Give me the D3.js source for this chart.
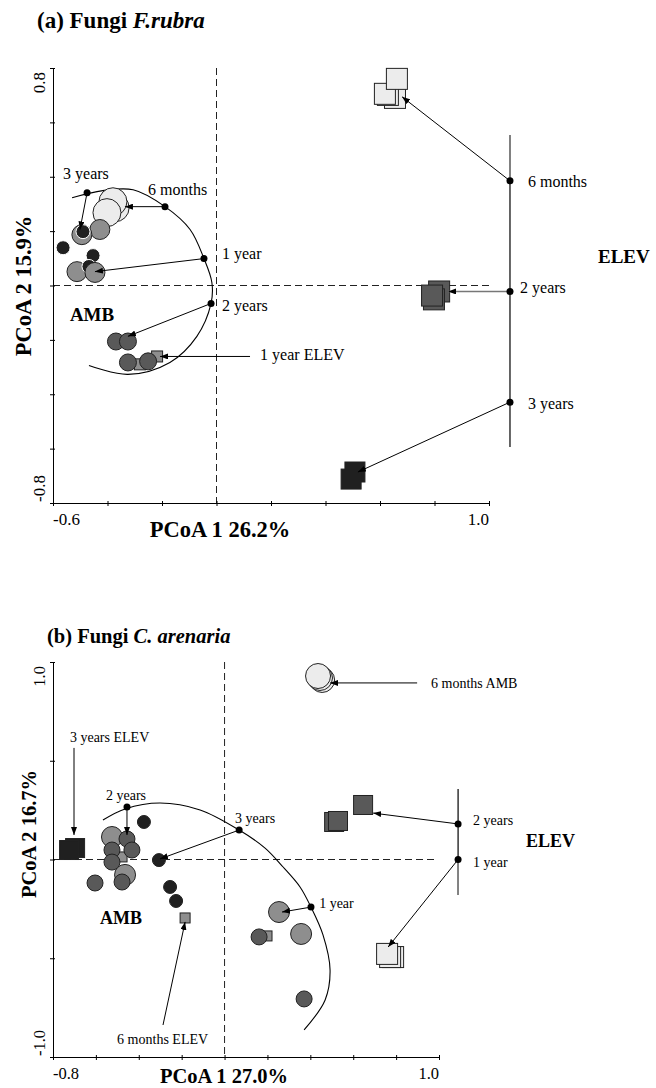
<!DOCTYPE html>
<html>
<head>
<meta charset="utf-8">
<script src="https://cdn.jsdelivr.net/npm/d3@7"></script>
<style>
  body { margin: 0; background: #fff; }
  svg { display: block; }
  text { font-family: "Liberation Serif", "Times New Roman", serif; fill: #000; }
  .tick-label { font-family: "Liberation Sans", Arial, sans-serif; }
</style>
</head>
<body>
<svg id="chart" width="656" height="1088"></svg>
<script>
// ---------- panel (a) Fungi F.rubra ----------
const aTicksX = [-0.6, -0.4, -0.2, 0, 0.2, 0.4, 0.6, 0.8, 1.0];
const aTicksY = [-0.8, -0.6, -0.4, -0.2, 0, 0.2, 0.4, 0.6, 0.8];

const aSquares = [
  { tone: "grey", x: -0.281, y: -0.290 },
  { tone: "grey", x: -0.218, y: -0.261 },
  { tone: "light", x: 0.655, y: 0.690 },
  { tone: "light", x: 0.629, y: 0.701 },
  { tone: "light", x: 0.618, y: 0.705 },
  { tone: "light", x: 0.662, y: 0.760 },
  { tone: "dark", x: 0.817, y: -0.022 },
  { tone: "dark", x: 0.798, y: -0.051 },
  { tone: "dark", x: 0.791, y: -0.037 },
  { tone: "black", x: 0.508, y: -0.686 },
  { tone: "black", x: 0.494, y: -0.712 },
];

const aCircles = [
  { tone: "light", x: -0.372, y: 0.286 },
  { tone: "light", x: -0.380, y: 0.308 },
  { tone: "light", x: -0.402, y: 0.268 },
  { tone: "grey", x: -0.428, y: 0.206 },
  { tone: "grey", x: -0.494, y: 0.187 },
  { tone: "black", x: -0.490, y: 0.198 },
  { tone: "black", x: -0.563, y: 0.139 },
  { tone: "black", x: -0.453, y: 0.110 },
  { tone: "grey", x: -0.512, y: 0.051 },
  { tone: "black", x: -0.468, y: 0.070 },
  { tone: "grey", x: -0.446, y: 0.048 },
  { tone: "dark", x: -0.369, y: -0.206 },
  { tone: "dark", x: -0.325, y: -0.206 },
  { tone: "dark", x: -0.325, y: -0.283 },
  { tone: "dark", x: -0.251, y: -0.279 },
];

const aArc = [
  [-0.530, 0.323], [-0.417, 0.349], [-0.306, 0.352], [-0.189, 0.290],
  [-0.097, 0.206], [-0.046, 0.099], [-0.017, 0.011], [-0.020, -0.066],
  [-0.072, -0.187], [-0.171, -0.283], [-0.325, -0.327], [-0.468, -0.294],
];

const aElevLine = [[1.077, 0.554], [1.077, -0.594]];
const aElevGrey = [[1.077, 0.554], [1.077, 0.385]];

const aArrows = [
  { from: [-0.475, 0.341], to: [-0.501, 0.206], dot: true },
  { from: [-0.189, 0.290], to: [-0.336, 0.290], dot: true },
  { from: [-0.046, 0.099], to: [-0.446, 0.051], dot: true },
  { from: [-0.020, -0.066], to: [-0.325, -0.187], dot: true },
  { from: [0.123, -0.261], to: [-0.207, -0.261], dot: false },
  { from: [1.077, 0.385], to: [0.681, 0.694], dot: true },
  { from: [1.077, -0.022], to: [0.850, -0.022], dot: true, grey: true },
  { from: [1.077, -0.429], to: [0.519, -0.686], dot: true },
];

const aLabels = [
  { text: "3 years", x: -0.563, y: 0.393 },
  { text: "6 months", x: -0.251, y: 0.334 },
  { text: "1 year", x: 0.020, y: 0.099 },
  { text: "2 years", x: 0.020, y: -0.092 },
  { text: "1 year ELEV", x: 0.160, y: -0.275 },
  { text: "6 months", x: 1.143, y: 0.363 },
  { text: "2 years", x: 1.114, y: -0.026 },
  { text: "3 years", x: 1.143, y: -0.455 },
];
const aBoldLabels = [
  { text: "AMB", x: -0.538, y: -0.132 },
  { text: "ELEV", x: 1.400, y: 0.081 },
];

// ---------- panel (b) Fungi C. arenaria ----------
const bTicksX = [-0.8, -0.6, -0.4, -0.2, 0, 0.2, 0.4, 0.6, 0.8, 1.0];
const bTicksY = [-1.0, -0.5, 0, 0.5, 1.0];

const bSquares = [
  { tone: "black", x: -0.697, y: 0.058 },
  { tone: "black", x: -0.725, y: 0.048 },
  { tone: "grey", x: -0.478, y: 0.013 },
  { tone: "grey", x: -0.184, y: -0.296 },
  { tone: "grey", x: 0.198, y: -0.387 },
  { tone: "dark", x: 0.646, y: 0.276 },
  { tone: "dark", x: 0.511, y: 0.190 },
  { tone: "dark", x: 0.529, y: 0.195 },
  { tone: "light", x: 0.786, y: -0.494 },
  { tone: "light", x: 0.772, y: -0.494 },
  { tone: "light", x: 0.758, y: -0.478 },
];

const bCircles = [
  { tone: "light", x: 0.455, y: 0.909 },
  { tone: "light", x: 0.445, y: 0.919 },
  { tone: "light", x: 0.436, y: 0.929 },
  { tone: "grey", x: -0.525, y: 0.114 },
  { tone: "dark", x: -0.455, y: 0.104 },
  { tone: "dark", x: -0.525, y: 0.048 },
  { tone: "dark", x: -0.432, y: 0.048 },
  { tone: "dark", x: -0.525, y: -0.013 },
  { tone: "grey", x: -0.464, y: -0.078 },
  { tone: "dark", x: -0.478, y: -0.114 },
  { tone: "dark", x: -0.604, y: -0.119 },
  { tone: "black", x: -0.376, y: 0.190 },
  { tone: "black", x: -0.306, y: -0.003 },
  { tone: "black", x: -0.254, y: -0.139 },
  { tone: "black", x: -0.226, y: -0.210 },
  { tone: "grey", x: 0.254, y: -0.266 },
  { tone: "grey", x: 0.357, y: -0.377 },
  { tone: "dark", x: 0.161, y: -0.392 },
  { tone: "dark", x: 0.371, y: -0.706 },
];

const bArc = [
  [-0.567, 0.200], [-0.464, 0.256], [-0.301, 0.286], [-0.114, 0.251],
  [0.068, 0.149], [0.189, 0.058], [0.273, -0.038], [0.352, -0.139],
  [0.403, -0.241], [0.459, -0.382], [0.492, -0.559], [0.469, -0.711],
  [0.371, -0.863],
];

const bElevLine = [[1.089, 0.357], [1.089, -0.180]];
const bElevGrey = [[1.089, 0.0], [1.089, -0.180]];

const bArrows = [
  { from: [-0.455, 0.266], to: [-0.455, 0.124], dot: true },
  { from: [0.068, 0.149], to: [-0.301, 0.003], dot: true },
  { from: [0.403, -0.241], to: [0.268, -0.266], dot: true },
  { from: [-0.702, 0.565], to: [-0.702, 0.124], dot: false },
  { from: [-0.287, -0.838], to: [-0.184, -0.316], dot: false },
  { from: [0.898, 0.894], to: [0.492, 0.894], dot: false },
  { from: [1.089, 0.180], to: [0.693, 0.235], dot: true },
  { from: [1.089, 0.0], to: [0.763, -0.443], dot: true },
];

const bLabels = [
  { text: "3 years ELEV", x: -0.721, y: 0.595 },
  { text: "2 years", x: -0.553, y: 0.301 },
  { text: "3 years", x: 0.049, y: 0.185 },
  { text: "1 year", x: 0.441, y: -0.246 },
  { text: "6 months AMB", x: 0.963, y: 0.868 },
  { text: "6 months ELEV", x: -0.501, y: -0.934 },
  { text: "2 years", x: 1.159, y: 0.175 },
  { text: "1 year", x: 1.159, y: -0.038 },
];
const bBoldLabels = [
  { text: "AMB", x: -0.581, y: -0.327 },
  { text: "ELEV", x: 1.406, y: 0.063 },
];

const toneFill = { light: "#ececec", grey: "#8e8e8e", dark: "#595959", black: "#202020" };

const svg = d3.select("#chart");

svg.append("defs").append("marker")
  .attr("id", "head")
  .attr("viewBox", "0 0 8 6")
  .attr("refX", 8).attr("refY", 3)
  .attr("markerWidth", 8).attr("markerHeight", 6)
  .attr("markerUnits", "userSpaceOnUse")
  .attr("orient", "auto")
  .append("path").attr("d", "M0,0L8,3L0,6z").attr("fill", "#000");

function drawPanel(cfg) {
  const x = d3.scaleLinear().domain(cfg.xDomain).range(cfg.xRange);
  const y = d3.scaleLinear().domain(cfg.yDomain).range(cfg.yRange);
  const g = svg.append("g");
  const line = d3.line().x((d) => x(d[0])).y((d) => y(d[1]));

  // title
  const title = g.append("text")
    .attr("x", cfg.title.x).attr("y", cfg.title.y)
    .attr("font-size", cfg.title.size).attr("font-weight", "bold");
  title.append("tspan").text(cfg.title.plain);
  title.append("tspan").attr("font-style", "italic").text(cfg.title.italic);

  // dashed reference lines
  g.append("line")
    .attr("x1", x(cfg.xDomain[0])).attr("x2", x(cfg.hDashEnd))
    .attr("y1", y(0)).attr("y2", y(0))
    .attr("stroke", "#222").attr("stroke-dasharray", "7,4");
  g.append("line")
    .attr("x1", x(0)).attr("x2", x(0))
    .attr("y1", y(cfg.yDomain[1])).attr("y2", y(cfg.yDomain[0]))
    .attr("stroke", "#222").attr("stroke-dasharray", "7,4");

  // axes
  g.append("g")
    .attr("transform", `translate(0,${y(cfg.yDomain[0])})`)
    .call(d3.axisBottom(x).tickValues(cfg.ticksX).tickSize(3).tickSizeOuter(0).tickFormat(""))
    .call((s) => s.selectAll(".tick line").attr("y1", -2));
  g.append("g")
    .attr("transform", `translate(${x(cfg.xDomain[0])},0)`)
    .call(d3.axisLeft(y).tickValues(cfg.ticksY).tickSize(3).tickSizeOuter(0).tickFormat(""))
    .call((s) => s.selectAll(".tick line").attr("x1", 2));

  // end tick labels
  const tl = g.append("g").attr("class", "tick-label").attr("font-size", cfg.tickSize);
  tl.append("text").attr("x", x(cfg.xDomain[0])).attr("y", y(cfg.yDomain[0]) + 22)
    .text(cfg.xDomain[0].toFixed(1));
  tl.append("text").attr("x", x(cfg.xDomain[1])).attr("y", y(cfg.yDomain[0]) + 22)
    .attr("text-anchor", "end").text(cfg.xDomain[1].toFixed(1));
  tl.append("text").attr("transform", `translate(45,${y(cfg.yDomain[1]) + 4}) rotate(-90)`)
    .attr("text-anchor", "end").text(cfg.yDomain[1].toFixed(1));
  tl.append("text").attr("transform", `translate(45,${y(cfg.yDomain[0]) - 1}) rotate(-90)`)
    .text(cfg.yDomain[0].toFixed(1));

  // axis titles
  g.append("text").attr("x", cfg.xTitle.x).attr("y", cfg.xTitle.y)
    .attr("text-anchor", "middle").attr("font-weight", "bold").attr("font-size", cfg.axisTitleSize)
    .text(cfg.xTitle.text);
  g.append("text").attr("transform", `translate(${cfg.yTitle.x},${cfg.yTitle.y}) rotate(-90)`)
    .attr("text-anchor", "middle").attr("font-weight", "bold").attr("font-size", cfg.axisTitleSize)
    .text(cfg.yTitle.text);

  // AMB trajectory arc
  g.append("path").attr("d", line.curve(d3.curveCatmullRom.alpha(0.5))(cfg.arc))
    .attr("fill", "none").attr("stroke", "#000").attr("stroke-width", 1.1);
  line.curve(d3.curveLinear);

  // ELEV trajectory line
  g.append("path").attr("d", line(cfg.elevLine)).attr("stroke", "#000").attr("stroke-width", 1.2);
  g.append("path").attr("d", line(cfg.elevGrey)).attr("stroke", "#888").attr("stroke-width", 1.6);

  // samples
  g.append("g").selectAll("rect").data(cfg.squares).join("rect")
    .attr("x", (d) => x(d.x) - cfg.squareSize[d.tone] / 2)
    .attr("y", (d) => y(d.y) - cfg.squareSize[d.tone] / 2)
    .attr("width", (d) => cfg.squareSize[d.tone])
    .attr("height", (d) => cfg.squareSize[d.tone])
    .attr("fill", (d) => toneFill[d.tone])
    .attr("stroke", "#222").attr("stroke-width", 1);

  g.append("g").selectAll("circle").data(cfg.circles).join("circle")
    .attr("cx", (d) => x(d.x)).attr("cy", (d) => y(d.y))
    .attr("r", (d) => cfg.radius[d.tone])
    .attr("fill", (d) => toneFill[d.tone])
    .attr("stroke", (d) => (d.tone === "black" && cfg.whiteRing ? "#fff" : "#222"))
    .attr("stroke-width", 1);

  // arrows and time-point dots
  g.append("g").selectAll("line").data(cfg.arrows).join("line")
    .attr("x1", (d) => x(d.from[0])).attr("y1", (d) => y(d.from[1]))
    .attr("x2", (d) => x(d.to[0])).attr("y2", (d) => y(d.to[1]))
    .attr("stroke", (d) => (d.grey ? "#777" : "#000"))
    .attr("stroke-width", (d) => (d.grey ? 1.6 : 1))
    .attr("marker-end", "url(#head)");
  g.append("g").selectAll("circle").data(cfg.arrows.filter((d) => d.dot)).join("circle")
    .attr("cx", (d) => x(d.from[0])).attr("cy", (d) => y(d.from[1]))
    .attr("r", 3.5).attr("fill", "#000");

  // labels
  g.append("g").selectAll("text").data(cfg.labels).join("text")
    .attr("x", (d) => x(d.x)).attr("y", (d) => y(d.y))
    .attr("font-size", cfg.labelSize).text((d) => d.text);
  g.append("g").selectAll("text").data(cfg.boldLabels).join("text")
    .attr("x", (d) => x(d.x)).attr("y", (d) => y(d.y))
    .attr("font-size", cfg.boldSize).attr("font-weight", "bold").text((d) => d.text);
}

drawPanel({
  xDomain: [-0.6, 1.0], xRange: [53, 489],
  yDomain: [-0.8, 0.8], yRange: [503, 68],
  ticksX: aTicksX, ticksY: aTicksY, hDashEnd: 1.004,
  title: { x: 37, y: 28, size: 23, plain: "(a) Fungi ", italic: "F.rubra" },
  xTitle: { x: 220, y: 537, text: "PCoA 1 26.2%" },
  yTitle: { x: 31, y: 286, text: "PCoA 2 15.9%" },
  axisTitleSize: 22.5, tickSize: 17, labelSize: 16, boldSize: 19,
  arc: aArc, elevLine: aElevLine, elevGrey: aElevGrey,
  squares: aSquares, circles: aCircles, arrows: aArrows,
  labels: aLabels, boldLabels: aBoldLabels,
  radius: { light: 14, grey: 10, dark: 8.5, black: 7 },
  squareSize: { light: 21, grey: 11, dark: 21, black: 20 },
  whiteRing: true,
});

drawPanel({
  xDomain: [-0.8, 1.0], xRange: [53, 439],
  yDomain: [-1.0, 1.0], yRange: [1057, 662],
  ticksX: bTicksX, ticksY: bTicksY, hDashEnd: 0.991,
  title: { x: 47, y: 643, size: 20.5, plain: "(b) Fungi ", italic: "C. arenaria" },
  xTitle: { x: 224, y: 1083, text: "PCoA 1 27.0%" },
  yTitle: { x: 36, y: 834, text: "PCoA 2 16.7%" },
  axisTitleSize: 20.5, tickSize: 16.5, labelSize: 14, boldSize: 18,
  arc: bArc, elevLine: bElevLine, elevGrey: bElevGrey,
  squares: bSquares, circles: bCircles, arrows: bArrows,
  labels: bLabels, boldLabels: bBoldLabels,
  radius: { light: 12.5, grey: 10.5, dark: 8, black: 6.5 },
  squareSize: { light: 21, grey: 10, dark: 19, black: 19 },
  whiteRing: false,
});
</script>
</body>
</html>
